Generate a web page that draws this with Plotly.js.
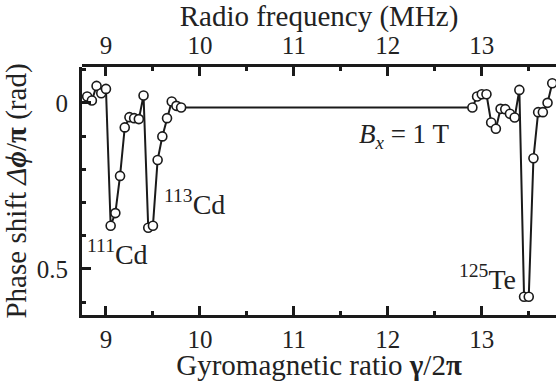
<!DOCTYPE html>
<html>
<head>
<meta charset="utf-8">
<script src="https://cdn.plot.ly/plotly-3.0.1.min.js"></script>
<style>
  html, body { margin: 0; padding: 0; background: #fff; overflow: hidden; }
  #chart { width: 556px; height: 381px; }
</style>
</head>
<body>
<div id="chart"></div>
<script>
// Cd scan (low-frequency window) and Te scan (high-frequency window)
const cdGamma = [8.80, 8.85, 8.90, 8.95, 9.00, 9.05, 9.10, 9.15, 9.20, 9.25, 9.30,
                 9.35, 9.40, 9.45, 9.50, 9.55, 9.60, 9.65, 9.70, 9.75, 9.80];
const cdShift = [-0.019, -0.007, -0.051, -0.029, -0.042, 0.370, 0.332, 0.220, 0.074, 0.043, 0.046,
                 0.049, -0.022, 0.376, 0.370, 0.172, 0.101, 0.046, -0.004, 0.009, 0.014];
const teGamma = [12.90, 12.95, 13.00, 13.05, 13.10, 13.15, 13.20, 13.25, 13.30,
                 13.35, 13.40, 13.45, 13.50, 13.55, 13.60, 13.65, 13.70, 13.75];
const teShift = [0.014, -0.019, -0.026, -0.026, 0.059, 0.078, 0.018, 0.019, 0.033,
                 0.044, -0.039, 0.584, 0.584, 0.167, 0.028, 0.028, 0.000, -0.059];

const xTickStep = 1;     // labelled ticks 9 … 13
const yTickStep = 0.5;   // labelled ticks 0, 0.5

const gamma = cdGamma.concat(teGamma);
const shift = cdShift.concat(teShift);

const FONT = 'Liberation Serif';
const INK = '#1a1a1a';
const xRange = [8.745, 13.79];

const traces = [
  {
    x: gamma, y: shift, type: 'scatter', mode: 'lines+markers',
    line: { color: INK, width: 2 },
    marker: { symbol: 'circle', size: 9, color: '#fff', line: { color: INK, width: 1.6 } },
    showlegend: false
  },
  {
    // carrier for the radio-frequency axis: a thin strip subplot along the top edge
    x: xRange, y: [0, 0], xaxis: 'x2', yaxis: 'y2', type: 'scatter', mode: 'none',
    hoverinfo: 'skip', showlegend: false
  }
];

const tickFont = { family: FONT, size: 25, color: '#222' };
const titleFont = { family: FONT, size: 29, color: '#222' };
const minorTicks = function (step) {
  return { dtick: step, tick0: 0, ticks: 'inside', ticklen: 4, tickwidth: 2.5, tickcolor: INK };
};
const axisStyle = {
  showline: true, linecolor: INK, linewidth: 2.8,
  ticks: 'inside', ticklen: 9, tickwidth: 2.5, tickcolor: INK,
  showgrid: false, zeroline: false, tickfont: tickFont
};

const layout = {
  width: 556, height: 381,
  margin: { l: 82, r: 0, t: 67, b: 66 },
  paper_bgcolor: '#fff', plot_bgcolor: 'rgba(0,0,0,0)',
  font: { family: FONT, color: '#222', size: 25 },
  xaxis: Object.assign({}, axisStyle, {
    range: xRange, tickmode: 'linear', tick0: 0, dtick: xTickStep, anchor: 'y',
    minor: minorTicks(xTickStep / 2),
    title: { text: 'Gyromagnetic ratio <b>γ</b>/2<b>π</b>', font: titleFont, standoff: 3 }
  }),
  xaxis2: Object.assign({}, axisStyle, {
    range: xRange, anchor: 'y2', side: 'top', tickmode: 'linear', tick0: 0, dtick: xTickStep,
    minor: minorTicks(xTickStep / 2),
    title: { text: 'Radio frequency (MHz)', font: titleFont, standoff: 2 }
  }),
  yaxis: Object.assign({}, axisStyle, {
    range: [0.639, -0.108], tickmode: 'linear', tick0: 0, dtick: yTickStep, anchor: 'x',
    domain: [0, 1], ticklabelstandoff: 6,
    minor: minorTicks(yTickStep / 5),
    title: { text: 'Phase shift <i>Δ</i><b><i>ϕ</i></b>/<b>π</b> (rad)', font: titleFont, standoff: 4 }
  }),
  yaxis2: {
    domain: [0.996, 1], anchor: 'x2', range: [-1, 1], visible: false,
    showgrid: false, zeroline: false
  },
  annotations: [
    { x: 9.128, y: 0.452, xref: 'x', yref: 'y', text: '<sup>111</sup>Cd', showarrow: false,
      font: { family: FONT, size: 28, color: '#222' } },
    { x: 9.947, y: 0.300, xref: 'x', yref: 'y', text: '<sup>113</sup>Cd', showarrow: false,
      font: { family: FONT, size: 28, color: '#222' } },
    { x: 13.064, y: 0.525, xref: 'x', yref: 'y', text: '<sup>125</sup>Te', showarrow: false,
      font: { family: FONT, size: 28, color: '#222' } },
    { x: 12.17, y: 0.100, xref: 'x', yref: 'y', text: '<i>B</i><sub><i>x</i></sub> = 1 T', showarrow: false,
      font: { family: FONT, size: 27, color: '#222' } }
  ]
};

Plotly.newPlot('chart', traces, layout, { displayModeBar: false });
</script>
</body>
</html>
